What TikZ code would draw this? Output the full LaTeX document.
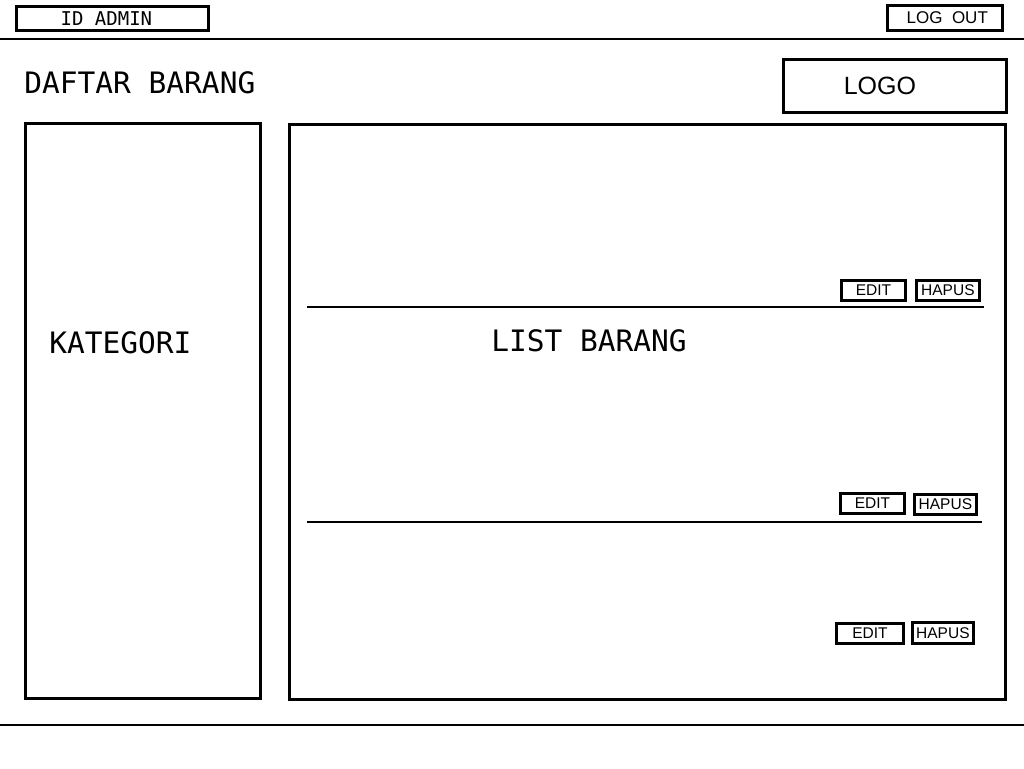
\documentclass[tikz,border=0pt]{standalone}
\usepackage{fontspec}
\setmainfont{Liberation Sans}
\newfontfamily\monofont{DejaVu Sans Mono}
\usetikzlibrary{positioning}

\begin{document}
\begin{tikzpicture}[x=1pt,y=-1pt,line width=2.8pt,
box/.style={draw,rectangle,anchor=north west,inner sep=0pt},
btn/.style={box,minimum height=20pt,font=\fontsize{15.5}{15.5}\selectfont},
big/.style={font=\monofont\fontsize{29.5}{29.5}\selectfont,inner sep=0pt}]
\useasboundingbox (0,0) rectangle (1024,768);
% header
\node[box,minimum width=192pt,minimum height=24pt,font=\monofont\fontsize{19}{19}\selectfont,text depth=0pt] (idadmin) at (15,5) {\hspace{-12pt}ID ADMIN};
\node[box,minimum width=115pt,minimum height=25pt,font=\fontsize{17}{17}\selectfont] (logout) at (886,4) {\ LOG\ \ OUT};
\coordinate (topl) at (0,39); \coordinate (topr) at (1024,39);
\draw (topl) -- (topr);
\node[big,anchor=base west] (judul) at (23,93) {DAFTAR BARANG};
\node[box,minimum width=223pt,minimum height=53pt,font=\fontsize{25}{25}\selectfont] (logo) at (782,58) {\hspace{-30pt}LOGO};
% kategori
\node[box,minimum width=235pt,minimum height=575pt] (kategori) at (24,122) {};
\node[big,anchor=west] (katlabel) at (48,343) {KATEGORI};
% list barang
\node[box,minimum width=716pt,minimum height=575pt] (list) at (288,123) {};
\node[big] (listlabel) at (589,341) {LIST BARANG};
\coordinate (r1l) at (307,307); \coordinate (r1r) at (984,307);
\coordinate (r2l) at (307,522); \coordinate (r2r) at (982,522);
\draw (r1l) -- (r1r);
\draw (r2l) -- (r2r);
\node[btn,minimum width=64pt] (edit1) at (840,279) {\raisebox{-2pt}{EDIT}};
\node[btn,minimum width=63pt] (hapus1) at (915,279) {HAPUS};
\node[btn,minimum width=64pt] (edit2) at (839,492) {EDIT};
\node[btn,minimum width=62pt] (hapus2) at (913,493) {\raisebox{-1pt}{HAPUS}};
\node[btn,minimum width=67pt] (edit3) at (835,622) {EDIT};
\node[btn,minimum width=61pt,minimum height=21pt] (hapus3) at (911,621) {HAPUS};
% footer
\coordinate (botl) at (0,725); \coordinate (botr) at (1024,725);
\draw (botl) -- (botr);
\end{tikzpicture}
\end{document}
